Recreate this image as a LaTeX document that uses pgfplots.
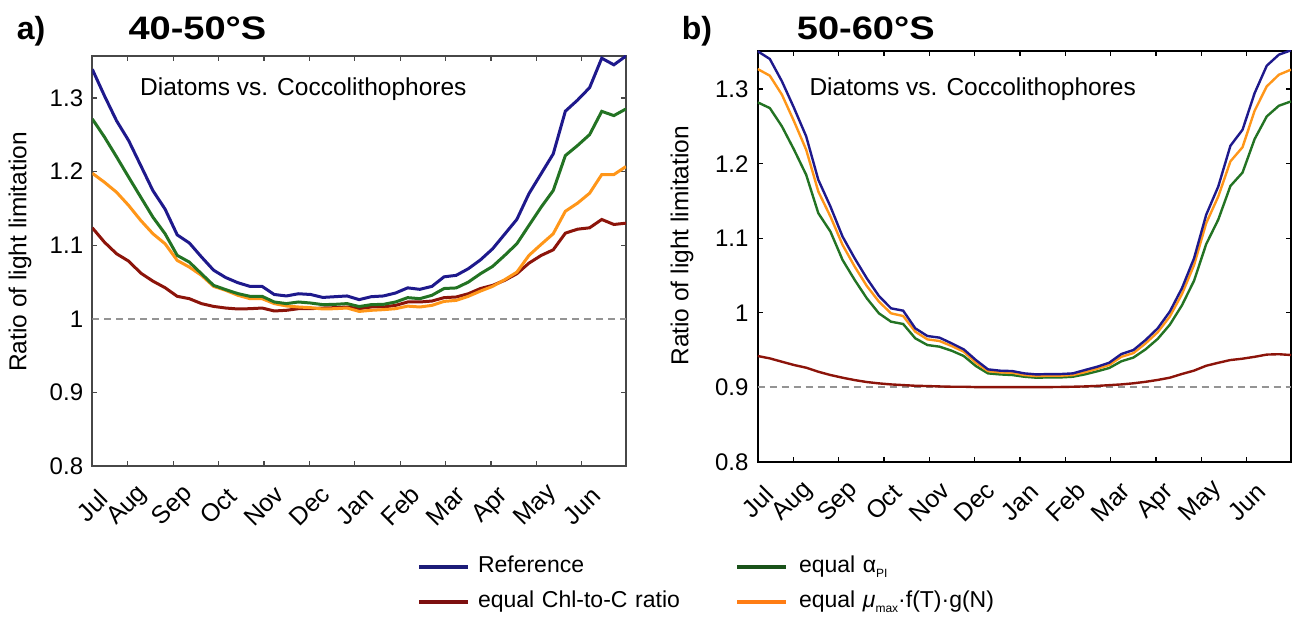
\documentclass[border=0pt]{standalone}
\usepackage{pgfplots}
\pgfplotsset{compat=1.18}
\usepackage{pgfplotstable}
\usepackage{fontspec}
\setmainfont{Liberation Sans}

\definecolor{cblue}{RGB}{30,25,140}
\definecolor{cred}{RGB}{140,20,10}
\definecolor{cgreen}{RGB}{35,115,35}
\definecolor{corange}{RGB}{255,150,25}
\definecolor{lblue}{RGB}{28,28,120}
\definecolor{lred}{RGB}{125,15,15}
\definecolor{lgreen}{RGB}{25,82,25}
\definecolor{lorange}{RGB}{255,125,20}

\pgfplotstableread{
i B G O R
0  1.339  1.2715 1.1977 1.1236
1  1.303  1.247  1.1855 1.1041
2  1.269  1.220  1.1719 1.0883
3  1.242  1.1923 1.1539 1.0783
4  1.208  1.1651 1.1335 1.0620
5  1.174  1.1380 1.1155 1.0511
6  1.149  1.1155 1.1019 1.0422
7  1.114  1.0861 1.0793 1.0305
8  1.103  1.0770 1.0702 1.0273
9  1.084  1.0612 1.0590 1.0206
10 1.066  1.0454 1.0440 1.0168
11 1.056  1.0396 1.0386 1.0146
12 1.049  1.0342 1.0319 1.0133
13 1.044  1.0305 1.0273 1.0137
14 1.044  1.0305 1.0273 1.0146
15 1.033  1.0228 1.0206 1.0106
16 1.031  1.0206 1.0174 1.0115
17 1.034  1.0228 1.0160 1.0137
18 1.033  1.0214 1.0151 1.0137
19 1.029  1.0192 1.0133 1.0146
20 1.030  1.0196 1.0137 1.0151
21 1.031  1.0206 1.0146 1.0160
22 1.026  1.0166 1.0100 1.0137
23 1.030  1.0192 1.0115 1.0160
24 1.031  1.0196 1.0124 1.0160
25 1.035  1.0228 1.0137 1.0182
26 1.042  1.0287 1.0172 1.0228
27 1.040  1.0273 1.0160 1.0228
28 1.044  1.0319 1.0182 1.0241
29 1.057  1.0411 1.0236 1.0287
30 1.059  1.0419 1.0250 1.0296
31 1.068  1.0498 1.0305 1.0340
32 1.080  1.0612 1.0376 1.0411
33 1.095  1.0711 1.0440 1.0454
34 1.115  1.0861 1.0531 1.0522
35 1.135  1.1019 1.0633 1.0612
36 1.170  1.1268 1.0861 1.0756
37 1.197  1.1516 1.1010 1.0860
38 1.224  1.1742 1.1155 1.0937
39 1.282  1.2217 1.1461 1.1163
40 1.297  1.2353 1.1570 1.1217
41 1.314  1.2502 1.1706 1.1236
42 1.354  1.2818 1.1959 1.1349
43 1.345  1.2760 1.1959 1.1281
44 1.357  1.2851 1.2068 1.1299
}\lefttab

\pgfplotstableread{
i B G O R
0  1.3506 1.2821 1.3268 0.9421
1  1.3403 1.2745 1.3179 0.9389
2  1.3103 1.2499 1.2924 0.9344
3  1.2745 1.2186 1.2566 0.9300
4  1.2365 1.1850 1.2186 0.9264
5  1.1783 1.1336 1.1626 0.9210
6  1.1425 1.1089 1.1291 0.9166
7  1.1022 1.0709 1.0911 0.9130
8  1.0731 1.0441 1.0620 0.9098
9  1.0463 1.0195 1.0360 0.9072
10 1.0226 0.9993 1.0150 0.9054
11 1.0060 0.9881 0.9993 0.9040
12 1.0029 0.9850 0.9957 0.9031
13 0.9792 0.9658 0.9747 0.9022
14 0.9689 0.9568 0.9644 0.9018
15 0.9667 0.9546 0.9622 0.9013
16 0.9591 0.9492 0.9555 0.9009
17 0.9510 0.9421 0.9479 0.9009
18 0.9367 0.9286 0.9331 0.9004
19 0.9242 0.9188 0.9219 0.9004
20 0.9224 0.9174 0.9201 0.9004
21 0.9219 0.9166 0.9197 0.9004
22 0.9188 0.9143 0.9166 0.9004
23 0.9174 0.9130 0.9152 0.9004
24 0.9179 0.9134 0.9157 0.9004
25 0.9179 0.9134 0.9157 0.9006
26 0.9188 0.9143 0.9166 0.9009
27 0.9233 0.9175 0.9205 0.9013
28 0.9277 0.9215 0.9250 0.9020
29 0.9331 0.9260 0.9300 0.9030
30 0.9447 0.9350 0.9410 0.9040
31 0.9501 0.9400 0.9460 0.9055
32 0.9635 0.9510 0.9590 0.9075
33 0.9792 0.9650 0.9740 0.9100
34 1.0016 0.9840 0.9950 0.9130
35 1.0329 1.0100 1.0250 0.9180
36 1.0731 1.0430 1.0640 0.9225
37 1.1313 1.0920 1.1200 0.9290
38 1.1694 1.1250 1.1560 0.9330
39 1.2239 1.1700 1.2030 0.9367
40 1.2454 1.1880 1.2220 0.9385
41 1.2946 1.2330 1.2710 0.9410
42 1.3313 1.2633 1.3036 0.9440
43 1.3461 1.2776 1.3192 0.9445
44 1.3519 1.2834 1.3260 0.9434
}\righttab

\newcommand{\sub}[1]{\raisebox{-5pt}{\fontsize{12}{12}\selectfont #1}}

\pgfplotsset{
  myaxis/.style={
    scale only axis,
    anchor=south west,
    xmin=0, xmax=44, ymin=0.8,
    xtick={0,2.93,6.67,10.41,14.15,17.89,21.63,25.38,29.12,32.86,36.60,40.35},
    xticklabels={Jul,Aug,Sep,Oct,Nov,Dec,Jan,Feb,Mar,Apr,May,Jun},
    ytick={0.8,0.9,1,1.1,1.2,1.3},
    yticklabels={0.8,0.9,1,1.1,1.2,1.3},
    tick align=inside,
    major tick length=5pt,
    minor tick num=0,
    ticklabel style={font=\fontsize{24}{28}\selectfont, text=black},
    yticklabel style={anchor=east, inner sep=0pt, font=\fontsize{24}{28}\selectfont},
    yticklabel shift=9pt,
    xticklabel style={rotate=45, anchor=center, inner sep=0pt, font=\fontsize{25}{29}\selectfont},
    xticklabel shift=40pt,
    label style={font=\fontsize{24.5}{29}\selectfont},
    ylabel={Ratio of light limitation},
    /pgf/number format/assume math mode=true,
    clip=true,
  }
}

\begin{document}
\begin{tikzpicture}
% ---------- panel a ----------
\begin{axis}[myaxis,
  at={(92.3pt,151pt)}, width=533.7pt, height=410pt, ymax=1.357,
  axis line style={draw=black!72, line width=1.6pt},
  major tick style={draw=black!72, line width=1.3pt},
  ylabel style={at={(axis description cs:-0.1355,0.522)}, anchor=center},
  legend columns=2,
  legend style={at={(0.6084,-0.2195)}, anchor=north west, draw=none, fill=none,
    inner sep=0pt, outer sep=0pt, column sep=0pt, row sep=13pt,
    font=\fontsize{23}{27}\selectfont,
    nodes={inner xsep=0pt, inner ysep=0pt, text height=17pt, text depth=5pt, text width=265pt, align=left},
    /tikz/every even column/.style={}, /tikz/every odd column/.style={}},
  legend cell align=left,
  legend image code/.code={\draw[#1] (0pt,0pt) -- (49pt,0pt);},
]
\addplot[forget plot, color=black!42, line width=2pt, dash pattern=on 7pt off 5pt] coordinates {(0,1) (44,1)};
\addplot[forget plot, color=cred, line width=3pt] table[x=i, y=R] {\lefttab};
\addplot[forget plot, color=corange, line width=3pt] table[x=i, y=O] {\lefttab};
\addplot[forget plot, color=cgreen, line width=3pt] table[x=i, y=G] {\lefttab};
\addplot[forget plot, color=cblue, line width=3pt] table[x=i, y=B] {\lefttab};
\addlegendimage{color=lblue, line width=4pt}
\addlegendentry{\hspace*{8pt}Reference}
\addlegendimage{color=lgreen, line width=4pt}
\addlegendentry{\hspace*{11pt}equal α\sub{PI}}
\addlegendimage{color=lred, line width=4pt}
\addlegendentry{\hspace*{8pt}equal Chl-to-C ratio}
\addlegendimage{color=lorange, line width=4pt}
\addlegendentry{\hspace*{11pt}equal {\itshape μ}\sub{max}·f(T)·g(N)}
\end{axis}
% ---------- panel b ----------
\begin{axis}[myaxis,
  at={(757.7pt,155pt)}, width=533.3pt, height=411pt, ymax=1.351,
  axis line style={draw=black, line width=1.6pt},
  major tick style={draw=black, line width=1.3pt},
  ylabel style={at={(axis description cs:-0.142,0.526)}, anchor=center},
]
\addplot[color=black!42, line width=2pt, dash pattern=on 7pt off 5pt] coordinates {(0,0.9) (44,0.9)};
\addplot[color=cred, line width=2.4pt] table[x=i, y=R] {\righttab};
\addplot[color=cgreen, line width=2.4pt] table[x=i, y=G] {\righttab};
\addplot[color=corange, line width=2.4pt] table[x=i, y=O] {\righttab};
\addplot[color=cblue, line width=2.4pt] table[x=i, y=B] {\righttab};
\end{axis}
% ---------- titles and notes ----------
\node[anchor=base west, inner sep=0pt] at (16.7pt,577.5pt) {\fontsize{32}{36}\selectfont\bfseries a)};
\node[anchor=base west, inner sep=0pt] at (128.3pt,577.5pt) {\scalebox{1.17}[1]{\fontsize{32.5}{36}\selectfont\bfseries 40-50°S}};
\node[anchor=base west, inner sep=0pt] at (681.7pt,577.5pt) {\fontsize{32}{36}\selectfont\bfseries b)};
\node[anchor=base west, inner sep=0pt] at (796.7pt,577.5pt) {\scalebox{1.17}[1]{\fontsize{32.5}{36}\selectfont\bfseries 50-60°S}};
\node[anchor=base west, inner sep=0pt] at (140pt,521.5pt) {\fontsize{24.5}{29}\selectfont Diatoms vs. Coccolithophores};
\node[anchor=base west, inner sep=0pt] at (809.3pt,521.5pt) {\fontsize{24.5}{29}\selectfont Diatoms vs. Coccolithophores};
\pgfresetboundingbox
\path[use as bounding box] (0pt,0pt) rectangle (1298pt,617pt);
\end{tikzpicture}
\end{document}
